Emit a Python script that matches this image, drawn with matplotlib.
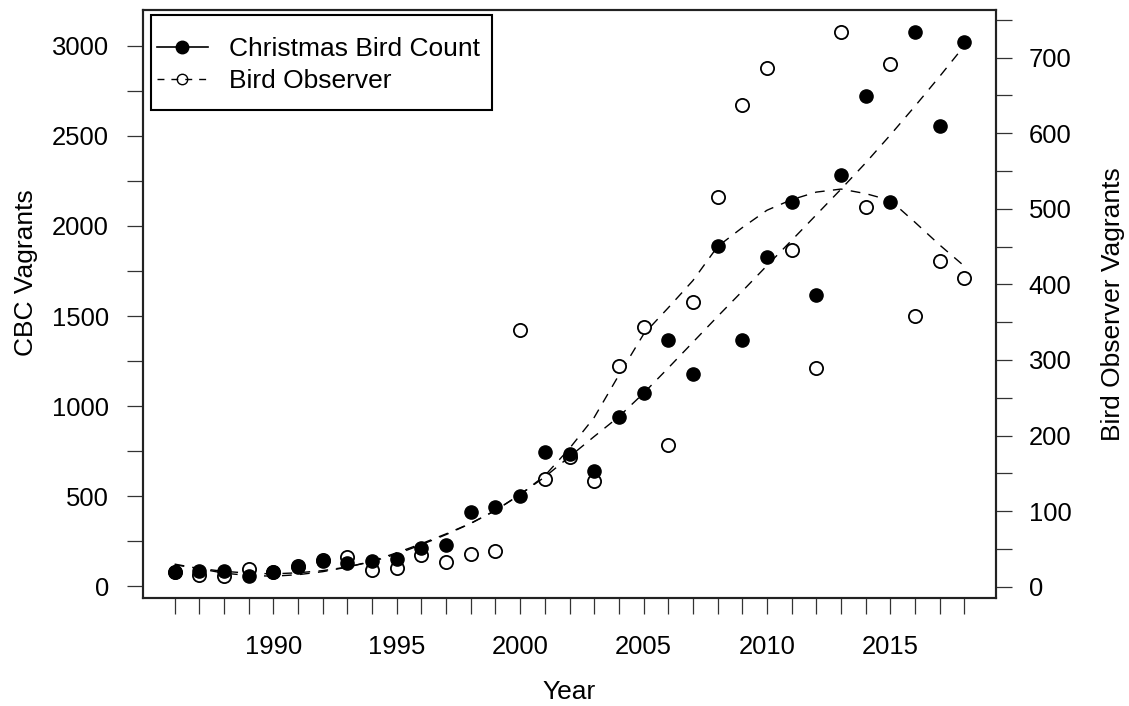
import numpy as np
import matplotlib
matplotlib.use("Agg")
import matplotlib.pyplot as plt
from matplotlib.patches import Rectangle
from matplotlib.ticker import MultipleLocator, FixedLocator, FuncFormatter

plt.rcParams.update({"font.family": ["Liberation Sans", "DejaVu Sans"]})
police = 19

# DONNÉES
years = list(range(1986, 2019))
cbc = [79, 85, 85, 57, 79, 109, 140, 131, 140, 153, 212, 232, 415, 441, 500, 747, 736,
       642, 939, 1072, 1368, 1179, 1887, 1367, 1828, 2134, 1618, 2285, 2723, 2131, 3077,
       2555, 3020]
bo = [20, 16, 14, 23, 20, 27, 35, 40, 22, 25, 42, 33, 44, 47, 340, 143, 171, 140, 292,
      344, 188, 376, 516, 637, 686, 446, 289, 734, 502, 691, 358, 431, 408]
# courbes lissées
cbc_fit = [120, 100, 84, 74, 70, 76, 88, 108, 138, 180, 232, 288, 350, 422, 510, 608, 720,
           832, 942, 1072, 1212, 1355, 1498, 1638, 1780, 1920, 2062, 2204, 2350, 2505,
           2665, 2830, 3000]
bo_fit = [30, 24, 18, 15, 14, 16, 20, 26, 34, 45, 57, 70, 84, 101, 122, 147, 183, 224,
          280, 334, 369, 405, 450, 475, 498, 512, 522, 526, 520, 511, 482, 452, 424]


def rlim(v):
    # étendue à la R : +/- 4 %
    lo, hi = min(v), max(v)
    d = 0.04 * (hi - lo)
    return lo - d, hi + d


fig = plt.figure(figsize=(11.29, 7.06), dpi=100)
ax1 = fig.add_axes([0.1267, 0.153, 0.7555, 0.8328])
ax2 = ax1.twinx()
ax1.set_zorder(ax2.get_zorder() + 1)
ax1.patch.set_visible(False)

tirets = (0, (7, 6))

# Bird Observer (axe de droite)
ax2.plot(years, bo_fit, color="black", lw=1.0, linestyle=tirets)
ax2.plot(years, bo, linestyle="none", marker="o", ms=9.5, mfc="white", mec="black", mew=1.3)

# Christmas Bird Count (axe de gauche)
ax1.plot(years, cbc_fit, color="black", lw=1.0, linestyle=tirets)
ax1.plot(years, cbc, linestyle="none", marker="o", ms=9.5, mfc="black", mec="black")

ax1.set_xlim(rlim(years))
ax1.set_ylim(rlim(cbc))
ax2.set_ylim(rlim(bo))

# axes
ax1.xaxis.set_major_locator(FixedLocator(years))
ax1.xaxis.set_major_formatter(FuncFormatter(lambda x, p: "%d" % x if int(round(x)) % 5 == 0 else ""))
ax1.yaxis.set_major_locator(MultipleLocator(500))
ax1.yaxis.set_minor_locator(MultipleLocator(250))
ax2.yaxis.set_major_locator(MultipleLocator(100))
ax2.yaxis.set_minor_locator(MultipleLocator(50))

for ax in (ax1, ax2):
    ax.tick_params(which="both", direction="out", length=11.5, width=0.9, color="#333333",
                   labelsize=police * 0.97)
    for s in ax.spines.values():
        s.set_linewidth(1.5)
        s.set_color("#222222")
ax1.tick_params(axis="y", pad=13)
ax1.tick_params(axis="x", pad=15)
ax2.tick_params(axis="y", pad=12)

ax1.set_xlabel("Year", fontsize=police, labelpad=15)
ax1.set_ylabel("CBC Vagrants", fontsize=police, labelpad=10, y=0.553)
ax2.set_ylabel("Bird Observer Vagrants", fontsize=police, labelpad=21)

# légende (cadre dessiné à part)
ax1.add_patch(Rectangle((0.0094, 0.830), 0.3998, 0.1615, transform=ax1.transAxes,
                        fill=True, facecolor="white", edgecolor="black", lw=1.5, zorder=5))
h1, = ax1.plot([], [], color="black", lw=1.2, marker="o", ms=9, mfc="black")
h2, = ax1.plot([], [], color="black", lw=1.0, linestyle=(0, (5, 5)), marker="o", ms=7.5,
               mfc="none", mec="black", mew=1.0)
leg = ax1.legend([h1, h2], ["Christmas Bird Count", "Bird Observer"], loc="upper left",
                 bbox_to_anchor=(0.0106, 0.963), borderaxespad=0, fontsize=police,
                 frameon=False, handlelength=1.9, handletextpad=0.83, borderpad=0.2,
                 labelspacing=0.31)
leg.set_zorder(6)

plt.savefig("out.png", dpi=100)
